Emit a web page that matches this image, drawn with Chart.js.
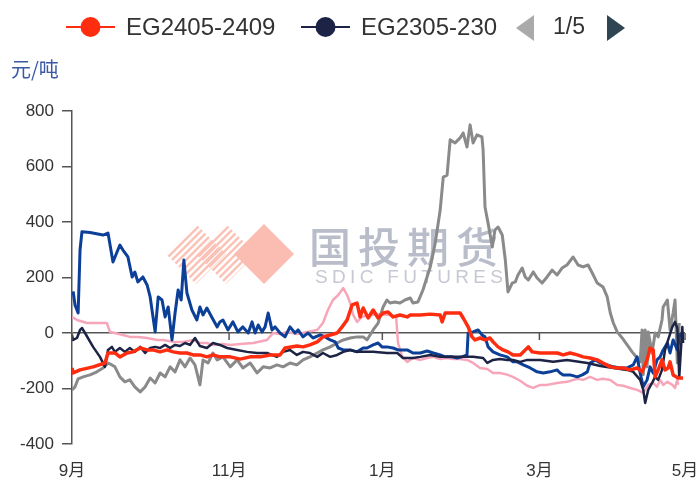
<!DOCTYPE html>
<html>
<head>
<meta charset="utf-8">
<script src="https://cdn.jsdelivr.net/npm/chart.js@4"></script>
<style>
  html, body { margin: 0; padding: 0; background: #fff; }
  canvas { display: block; }
</style>
</head>
<body>
<canvas id="spreadChart" width="699" height="478"></canvas>
<script>
// x = trading-day index from early Sep to early May, y = 元/吨
const monthTicks = [0, 41, 81, 122, 160];
const monthLabels = ['9月', '11月', '1月', '3月', '5月'];
const seriesNames = ['EG2405-2409', 'EG2305-2309', 'EG2205-2209', 'EG2105-2109', 'EG2005-2009'];

const eg2405 = [[0,-126],[0.3,-144],[2.1,-133],[5.5,-122],[8.6,-108],[9.4,-72],[11.2,-72],[12.5,-86],[14.4,-72],[15.9,-68],[17.8,-54],[19.6,-61],[21.1,-61],[23.0,-68],[24.8,-61],[26.4,-68],[28.2,-72],[30.0,-72],[31.6,-79],[33.4,-79],[35.2,-86],[36.8,-79],[38.6,-86],[41.3,-86],[43.9,-94],[46.5,-86],[49.1,-86],[51.7,-79],[54.3,-79],[55.6,-54],[58.7,-47],[60.3,-50],[62.1,-43],[64.0,-32],[65.5,-14],[67.4,-7],[69.2,0],[70.5,22],[71.8,47],[73.1,101],[74.4,108],[75.2,58],[76.0,90],[77.3,54],[78.6,83],[79.9,54],[81.2,72],[82.5,76],[83.8,58],[85.6,65],[87.5,58],[88.3,65],[90.9,65],[93.5,68],[96.1,65],[96.6,40],[97.4,72],[99.5,72],[101.3,72],[102.1,54],[103.4,22],[104.4,-14],[105.2,-25],[106.5,-18],[107.8,-25],[109.1,-18],[109.9,-32],[111.2,-50],[112.5,-61],[113.8,-68],[115.1,-79],[117.0,-79],[119.1,-50],[120.1,-68],[122.2,-72],[124.8,-72],[126.6,-72],[128.2,-79],[130.0,-72],[131.9,-79],[133.4,-86],[135.2,-90],[137.1,-97],[138.6,-108],[140.5,-122],[142.3,-126],[143.9,-126],[145.7,-133],[147.5,-126],[148.8,-140],[150.1,-97],[150.9,-54],[151.7,-61],[152.2,-158],[153.0,-133],[154.0,-97],[154.8,-133],[155.6,-126],[156.1,-104],[156.9,-151],[158.2,-162],[159.5,-162]];

const eg2305 = [[0,-7],[0.3,-25],[1.3,-18],[2.1,11],[2.6,18],[3.4,0],[5.5,-50],[7.3,-86],[8.6,-122],[9.4,-61],[10.4,-50],[11.2,-68],[12.5,-54],[13.8,-68],[15.1,-54],[16.4,-68],[17.8,-50],[19.1,-72],[20.4,-54],[21.7,-50],[23.0,-54],[24.3,-43],[25.6,-54],[26.9,-43],[28.2,-47],[29.5,-36],[30.8,-43],[32.1,-18],[33.4,-47],[35.2,-54],[36.8,-36],[38.6,-43],[40.5,-54],[43.1,-61],[45.7,-68],[48.3,-72],[50.9,-72],[53.5,-86],[55.1,-68],[56.9,-61],[58.7,-79],[60.3,-68],[62.1,-72],[64.0,-86],[65.5,-72],[67.4,-86],[69.2,-79],[70.8,-68],[72.6,-61],[74.4,-68],[76.0,-68],[78.6,-68],[82.2,-72],[84.9,-72],[86.4,-90],[89.0,-90],[90.9,-86],[93.5,-79],[96.1,-86],[99.5,-86],[102.1,-86],[104.7,-86],[107.3,-90],[108.4,-108],[109.9,-97],[111.7,-94],[113.6,-97],[115.1,-97],[117.0,-104],[118.8,-97],[122.2,-97],[125.6,-104],[129.2,-97],[134.5,-108],[137.9,-119],[141.3,-126],[144.9,-133],[146.5,-140],[148.3,-169],[149.1,-205],[149.6,-252],[150.4,-205],[151.4,-180],[152.2,-158],[153.0,-169],[154.0,-133],[154.8,-61],[155.6,-25],[156.7,22],[157.4,40],[158.0,18],[158.5,-158],[159.3,22],[159.5,-36]];

const eg2205 = [[0.3,150],[0.8,100],[1.6,72],[2.1,300],[2.6,365],[4.7,362],[8.1,353],[9.4,360],[10.7,256],[11.7,290],[12.5,317],[13.3,299],[14.6,274],[15.7,202],[16.4,220],[17.2,184],[18.5,202],[19.6,173],[20.4,130],[21.7,4],[22.5,130],[23.5,119],[24.3,58],[25.1,94],[26.1,-25],[26.9,72],[27.7,155],[28.5,119],[29.2,263],[30.0,144],[31.3,83],[32.6,47],[33.4,94],[34.2,65],[35.2,90],[36.6,54],[37.9,22],[38.6,40],[39.4,47],[40.7,11],[42.0,40],[43.3,4],[44.6,22],[46.0,0],[47.0,40],[47.8,0],[48.6,29],[49.6,4],[50.4,22],[51.2,72],[52.2,11],[53.0,22],[54.3,0],[55.6,-14],[56.9,22],[58.2,0],[59.0,11],[60.3,-14],[61.6,0],[62.9,-18],[64.8,-7],[66.1,-14],[67.4,-25],[68.7,-32],[69.5,-54],[70.8,-61],[72.6,-61],[74.4,-68],[76.0,-54],[77.0,-54],[78.6,-43],[79.9,-36],[80.9,-50],[82.2,-50],[83.8,-54],[85.1,-61],[87.5,-61],[89.0,-72],[90.9,-72],[92.7,-65],[94.3,-72],[96.1,-79],[97.4,-86],[99.2,-86],[100.5,-90],[101.8,-86],[103.1,-79],[103.4,0],[104.7,4],[106.0,11],[107.0,-7],[107.8,-14],[108.6,-50],[109.9,-68],[111.7,-79],[113.6,-86],[115.1,-104],[116.2,-104],[117.8,-115],[119.6,-126],[121.4,-140],[123.0,-144],[124.8,-140],[126.6,-133],[127.4,-144],[128.2,-151],[130.0,-151],[131.9,-158],[133.2,-151],[134.5,-140],[135.2,-108],[136.6,-97],[137.9,-108],[139.7,-115],[141.3,-122],[143.1,-126],[144.9,-126],[146.5,-115],[147.5,-86],[148.3,-144],[149.1,-194],[150.1,-169],[150.9,-122],[151.7,-144],[152.7,-97],[153.5,-86],[154.3,-61],[155.4,-36],[156.1,-72],[156.9,-25],[158.0,-61],[158.7,0]];

const eg2105 = [[0,-205],[0.8,-194],[1.6,-165],[2.9,-158],[4.7,-151],[6.5,-140],[8.1,-126],[9.4,-108],[10.4,-115],[11.2,-122],[12.5,-158],[13.8,-176],[15.1,-169],[16.4,-194],[17.8,-212],[19.1,-194],[20.4,-162],[21.7,-180],[23.0,-144],[24.3,-158],[25.6,-122],[26.9,-140],[28.2,-97],[29.5,-122],[30.8,-90],[32.1,-115],[33.4,-187],[34.2,-97],[35.5,-108],[36.8,-72],[37.9,-97],[39.4,-86],[41.3,-122],[43.1,-97],[44.6,-126],[46.5,-108],[48.3,-144],[49.9,-122],[51.7,-126],[53.5,-115],[55.1,-122],[56.9,-108],[58.7,-115],[60.3,-97],[62.1,-86],[64.0,-72],[65.5,-61],[67.4,-50],[69.2,-36],[70.8,-25],[72.6,-18],[74.4,-14],[76.0,-14],[77.0,-25],[78.6,11],[79.9,36],[81.2,94],[82.2,119],[83.0,108],[84.3,112],[85.6,108],[86.9,119],[88.3,126],[89.0,108],[90.3,112],[91.6,155],[93.5,238],[94.8,324],[96.1,443],[96.9,562],[97.9,569],[98.7,696],[100.0,685],[101.3,703],[102.1,721],[103.1,670],[103.9,750],[104.7,685],[105.7,714],[107.0,707],[107.3,660],[107.8,454],[108.6,396],[109.7,310],[110.4,371],[111.2,382],[112.3,353],[113.1,263],[113.8,148],[114.9,180],[115.7,184],[116.4,209],[117.5,234],[118.3,202],[119.1,191],[120.4,220],[121.4,198],[122.7,180],[124.0,202],[125.3,227],[126.6,209],[127.9,234],[129.2,245],[130.8,274],[132.1,245],[133.4,238],[134.7,245],[135.8,216],[137.1,180],[138.6,166],[139.7,130],[140.5,72],[141.3,36],[142.3,4],[143.6,-18],[144.9,-43],[146.2,-68],[147.5,-90],[148.3,-104],[148.8,11],[149.1,-150],[149.6,11],[150.1,-122],[150.4,4],[151.4,-72],[152.2,0],[153.0,-14],[154.0,47],[154.3,94],[155.4,119],[156.1,11],[156.9,72],[157.4,119],[158.0,-108],[158.5,36]];

const eg2005 = [[0,58],[1.3,47],[3.9,36],[6.5,36],[9.1,36],[9.9,4],[11.2,0],[13.3,-7],[15.1,-14],[17.2,-14],[19.6,-18],[22.2,-25],[23.8,-25],[26.4,-32],[29.0,-32],[31.6,-25],[33.4,-36],[35.2,-36],[36.8,-43],[39.4,-40],[41.3,-43],[43.9,-40],[47.3,-36],[50.9,-25],[52.5,0],[54.3,-4],[56.1,4],[58.7,-4],[61.4,4],[64.0,11],[65.5,36],[66.8,83],[68.1,119],[69.5,137],[70.8,162],[71.8,137],[72.6,108],[73.4,65],[74.4,40],[75.7,58],[77.8,65],[80.4,68],[83.0,65],[84.6,58],[85.1,-36],[86.2,-86],[87.5,-104],[89.0,-90],[90.9,-97],[92.7,-90],[94.3,-86],[96.1,-94],[97.9,-90],[99.5,-94],[101.3,-94],[103.1,-97],[104.7,-108],[106.5,-126],[108.4,-130],[109.9,-144],[111.7,-144],[113.6,-150],[115.1,-158],[117.0,-172],[118.8,-190],[120.4,-198],[122.2,-187],[124.0,-187],[126.6,-180],[129.2,-176],[131.9,-165],[133.4,-169],[135.2,-158],[137.1,-169],[138.6,-165],[140.5,-169],[142.3,-187],[143.9,-190],[145.7,-198],[147.5,-205],[149.1,-216],[150.4,-187],[151.7,-180],[152.7,-194],[153.5,-169],[154.3,-187],[155.4,-176],[156.7,-187],[157.4,-198],[158.0,-169],[158.2,-187]];

const seriesData = [eg2405, eg2305, eg2205, eg2105, eg2005];
const seriesColors = ['#ff2d0f', '#1c2345', '#0b3f98', '#8a8a8a', '#f7a6ba'];
const seriesWidths = [3.5, 2.5, 3, 3, 2.5];

Chart.defaults.font.family = '"Liberation Sans", "Noto Sans CJK SC", sans-serif';

const decor = {
  id: 'decor',
  beforeDatasetsDraw(chart) {
    // company watermark behind the lines
    const ctx = chart.ctx;
    ctx.save();
    const cy = 254, r = 30;
    [196, 226].forEach(cx => {
      ctx.save();
      ctx.beginPath();
      ctx.moveTo(cx - r, cy); ctx.lineTo(cx, cy - r); ctx.lineTo(cx + r, cy); ctx.lineTo(cx, cy + r);
      ctx.closePath();
      ctx.clip();
      ctx.strokeStyle = '#fbc3b7';
      ctx.lineWidth = 2.5;
      for (let c = -r * 2; c <= r * 2; c += 7) {
        ctx.beginPath();
        ctx.moveTo(cx + c / 2 - 40, cy + c / 2 + 40);
        ctx.lineTo(cx + c / 2 + 40, cy + c / 2 - 40);
        ctx.stroke();
      }
      ctx.restore();
    });
    ctx.fillStyle = '#fbbdb1';
    ctx.beginPath();
    ctx.moveTo(234, cy); ctx.lineTo(264, cy - r); ctx.lineTo(294, cy); ctx.lineTo(264, cy + r);
    ctx.closePath();
    ctx.fill();

    ctx.fillStyle = '#b9bdc9';
    ctx.textBaseline = 'middle';
    ctx.font = '500 42px "Noto Sans CJK SC"';
    ctx.letterSpacing = '7px';
    ctx.fillText('国投期货', 309, 247);
    ctx.font = '19px "Liberation Sans"';
    ctx.letterSpacing = '0px';
    const w = ctx.measureText('SDIC FUTURES').width;
    ctx.letterSpacing = ((188 - w) / 11) + 'px';
    ctx.fillStyle = '#c6c9d2';
    ctx.fillText('SDIC FUTURES', 315, 278);
    ctx.restore();
  },
  afterDraw(chart) {
    const ctx = chart.ctx;
    const xs = chart.scales.x, ys = chart.scales.y;
    ctx.save();
    // tick marks on the zero line
    const y0 = ys.getPixelForValue(0);
    ctx.strokeStyle = '#555';
    ctx.lineWidth = 1.5;
    xs.ticks.forEach(t => {
      const px = xs.getPixelForValue(t.value);
      ctx.beginPath(); ctx.moveTo(px, y0); ctx.lineTo(px, y0 + 7); ctx.stroke();
    });

    // unit label
    ctx.fillStyle = '#3a58a6';
    ctx.font = '20px "Noto Sans CJK SC"';
    ctx.textBaseline = 'middle';
    ctx.fillText('元/吨', 11, 69);

    // legend (page 1 of 5)
    const ly = 27;
    const item = (x, color, text, clipRight) => {
      ctx.strokeStyle = color; ctx.lineWidth = 2;
      ctx.beginPath(); ctx.moveTo(x, ly); ctx.lineTo(x + 49, ly); ctx.stroke();
      ctx.fillStyle = color;
      ctx.beginPath(); ctx.arc(x + 24.5, ly, 10, 0, Math.PI * 2); ctx.fill();
      ctx.save();
      ctx.beginPath(); ctx.rect(0, 0, clipRight, 60); ctx.clip();
      ctx.fillStyle = '#333';
      ctx.font = '24px "Liberation Sans"';
      ctx.textBaseline = 'middle';
      ctx.fillText(text, x + 60, ly + 1);
      ctx.restore();
    };
    item(66, seriesColors[0], seriesNames[0], 699);
    item(301, seriesColors[1], seriesNames[1], 497);

    ctx.fillStyle = '#aaaaaa';
    ctx.beginPath(); ctx.moveTo(516, 28); ctx.lineTo(534, 15); ctx.lineTo(534, 41); ctx.closePath(); ctx.fill();
    ctx.fillStyle = '#2f4554';
    ctx.beginPath(); ctx.moveTo(607, 15); ctx.lineTo(625, 28); ctx.lineTo(607, 41); ctx.closePath(); ctx.fill();
    ctx.fillStyle = '#333';
    ctx.font = '23px "Liberation Sans"';
    ctx.textBaseline = 'middle';
    ctx.fillText('1/5', 553, 28);
    ctx.restore();
  }
};

new Chart(document.getElementById('spreadChart'), {
  type: 'line',
  data: {
    datasets: seriesData.map((pts, i) => ({
      label: seriesNames[i],
      data: pts.map(([x, y]) => ({ x, y })),
      borderColor: seriesColors[i],
      borderWidth: seriesWidths[i],
      pointRadius: 0,
      tension: 0,
      borderJoinStyle: 'round',
      fill: false
    }))
  },
  options: {
    responsive: false,
    animation: false,
    layout: { padding: { top: 111, right: 14, bottom: 0, left: 0 } },
    plugins: { legend: { display: false }, tooltip: { enabled: false } },
    scales: {
      x: {
        type: 'linear',
        min: 0,
        max: 160,
        grid: { display: false, drawTicks: false },
        border: { display: false },
        afterBuildTicks: s => { s.ticks = monthTicks.map(v => ({ value: v })); },
        afterFit: s => { s.height = 34; s.paddingLeft = 0; s.paddingRight = 0; },
        ticks: {
          autoSkip: false,
          maxRotation: 0,
          padding: 17,
          color: '#333',
          font: { size: 17 },
          callback: v => monthLabels[monthTicks.indexOf(v)]
        }
      },
      y: {
        min: -400,
        max: 800,
        afterFit: s => { s.width = 72; },
        border: { color: '#555', width: 1.5 },
        grid: {
          color: c => (c.tick && c.tick.value === 0 ? '#555' : 'rgba(0,0,0,0)'),
          tickColor: '#555',
          lineWidth: 1.5,
          tickLength: 10
        },
        ticks: { stepSize: 200, padding: 8, color: '#333', font: { size: 17 } }
      }
    }
  },
  plugins: [decor]
});
</script>
</body>
</html>
